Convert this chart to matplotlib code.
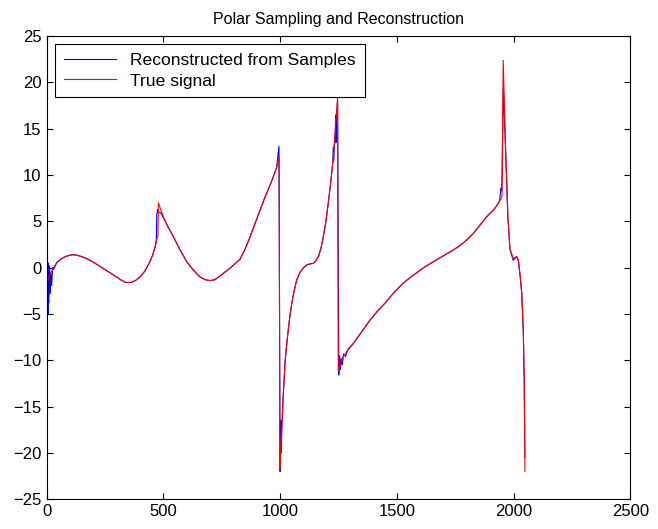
import numpy as np
import matplotlib
matplotlib.use("Agg")
import matplotlib.pyplot as plt

plt.rcParams['font.family'] = ['Liberation Sans', 'DejaVu Sans']

# true signal
true_x = [0, 10, 20, 30, 44, 60, 80, 100, 115, 130, 150, 175, 200, 225, 250,
          275, 300, 320, 340, 360, 380, 400, 420, 440, 455, 465, 472, 477,
          479, 490, 500, 520, 543, 570, 600, 630, 657, 680, 700, 720, 740, 760,
          785, 810, 828, 850, 871, 893, 914, 935, 957, 975, 985, 996,
          999, 1003, 1007, 1014, 1021, 1028, 1035, 1042, 1050, 1060, 1071, 1085,
          1100, 1114, 1130, 1142, 1152, 1164, 1175, 1185, 1196, 1206, 1217, 1228,
          1234, 1239, 1243, 1246,
          1249, 1256, 1270, 1290, 1313, 1350, 1385, 1420, 1450, 1480, 1506, 1530,
          1560, 1590, 1620, 1650, 1680, 1710, 1741, 1770, 1790, 1810, 1827, 1856,
          1875, 1891, 1913, 1930, 1940, 1950,
          1955, 1965, 1975, 1984, 1998, 2013, 2020, 2028, 2034, 2041, 2045, 2048]
true_y = [-1.9, -1.0, -0.5, 0.0, 0.55, 0.9, 1.2, 1.35, 1.4, 1.35, 1.2, 0.95,
          0.6, 0.2, -0.2, -0.6, -1.0, -1.35, -1.6, -1.6, -1.4, -1.0, -0.4, 0.5,
          1.4, 2.2, 3.0, 3.5,
          7.0, 6.2, 5.5, 4.4, 3.35, 2.0, 0.65, -0.3, -1.0, -1.3, -1.4, -1.3,
          -0.95, -0.55, -0.07, 0.5, 0.9, 2.0, 3.3, 4.8, 6.2, 7.6, 8.9, 10.1,
          10.8, 12.0,
          -21.7, -19.5, -17.5, -13.5, -10.3, -8.3, -6.7, -5.2, -3.85, -2.5, -1.33,
          -0.5, 0.0, 0.3, 0.42, 0.47, 0.7, 1.2, 2.1, 3.35, 5.0, 6.95, 9.3, 12.0,
          14.0, 15.9, 17.2, 18.4,
          -11.2, -10.6, -9.6, -8.9, -8.2, -6.9, -5.65, -4.6, -3.8, -2.9, -2.2,
          -1.6, -1.0, -0.45, 0.1, 0.55, 1.0, 1.45, 1.9, 2.4, 2.8, 3.25, 3.7, 4.6,
          5.2, 5.7, 6.2, 6.8, 7.2, 7.7,
          22.4, 13.0, 5.5, 2.0, 1.0, 1.2, 0.8, -1.0, -2.6, -6.7, -12.0, -22.0]

# reconstruction from samples (follows the true signal, with ringing at the jumps)
recon_x = [0, 2, 4, 6, 8, 10, 13, 16, 19, 22, 26, 30, 44, 60, 80, 100, 115,
           130, 150, 175, 200, 225, 250, 275, 300, 320, 340, 360, 380, 400, 420,
           440, 455, 466, 470, 472, 476, 480, 490, 500, 520, 543, 570, 600, 630,
           657, 680, 700, 720, 740, 760, 785, 810, 828, 850, 871, 893, 914, 935,
           957, 975, 985, 995,
           1000, 1003, 1005, 1008, 1014, 1021, 1028, 1035, 1042, 1050, 1060, 1071,
           1085, 1100, 1114, 1130, 1142, 1152, 1164, 1175, 1185, 1196, 1206, 1217,
           1226, 1228, 1229, 1234, 1236, 1238, 1239, 1243, 1246,
           1251, 1255, 1258, 1262, 1266, 1272, 1280, 1290, 1313, 1350, 1385, 1420,
           1450, 1480, 1506, 1530, 1560, 1590, 1620, 1650, 1680, 1710, 1741, 1770,
           1790, 1810, 1827, 1856, 1875, 1891, 1913, 1930, 1940, 1945, 1949,
           1956, 1965, 1975, 1984, 1998, 2013, 2020, 2028, 2034, 2041, 2045, 2048]
recon_y = [1.5, -4.8, 1.0, -5.0, 0.5, -3.8, 0.2, -2.8, -0.6, -1.9, 0.0, -0.2,
           0.55, 0.9, 1.2, 1.35, 1.4, 1.35, 1.2, 0.95, 0.6, 0.2, -0.2, -0.6,
           -1.0, -1.35, -1.6, -1.6, -1.4, -1.0, -0.4, 0.5, 1.4, 2.4, 3.0, 5.8,
           6.3, 6.0, 5.9, 5.4, 4.4, 3.35, 2.0, 0.65, -0.3, -1.0, -1.3, -1.4,
           -1.3, -0.95, -0.55, -0.07, 0.5, 0.9, 2.0, 3.3, 4.8, 6.2, 7.6, 8.9,
           10.1, 10.8, 13.1,
           -22.0, -16.5, -20.0, -16.8, -13.5, -10.3, -8.3, -6.7, -5.2, -3.85,
           -2.5, -1.33, -0.5, 0.0, 0.3, 0.42, 0.47, 0.7, 1.2, 2.1, 3.35, 5.0,
           6.95, 9.3, 11.5, 13.0, 11.5, 14.0, 14.5, 16.5, 13.5, 17.0, 18.0,
           -11.6, -9.5, -11.0, -9.8, -10.5, -9.3, -9.6, -8.8, -8.2, -6.9, -5.65,
           -4.6, -3.8, -2.9, -2.2, -1.6, -1.0, -0.45, 0.1, 0.55, 1.0, 1.45, 1.9,
           2.4, 2.8, 3.25, 3.7, 4.6, 5.2, 5.7, 6.2, 6.8, 7.2, 8.6, 8.3,
           19.5, 13.0, 5.5, 2.0, 0.8, 1.2, 0.8, -1.0, -2.6, -6.7, -12.0, -20.5]

fig = plt.figure(figsize=(6.58, 5.29), dpi=100)
ax = fig.add_axes([0.0707, 0.0563, 0.8875, 0.8753])

ax.plot(recon_x, recon_y, color='#0000ff', lw=0.8, label='Reconstructed from Samples')
ax.plot(true_x, true_y, color='#ff0000', lw=0.8, label='True signal')

ax.set_xlim(0, 2500)
ax.set_ylim(-25, 25)
ax.set_xticks(np.arange(0, 2501, 500))
ax.set_yticks(np.arange(-25, 26, 5))
ax.tick_params(direction='in', length=4, top=True, right=True, labelsize=12)
for s in ax.spines.values():
    s.set_linewidth(0.8)
ax.set_title('Polar Sampling and Reconstruction', fontsize=11.5, pad=9)

leg = ax.legend(loc='upper left', bbox_to_anchor=(0.0146, 0.983), borderaxespad=0,
                fancybox=False, edgecolor='black', fontsize=12.6, handlelength=3.0,
                borderpad=0.5, framealpha=1, labelspacing=0.3)
leg.get_frame().set_linewidth(0.8)

fig.savefig('out.png', dpi=100)
